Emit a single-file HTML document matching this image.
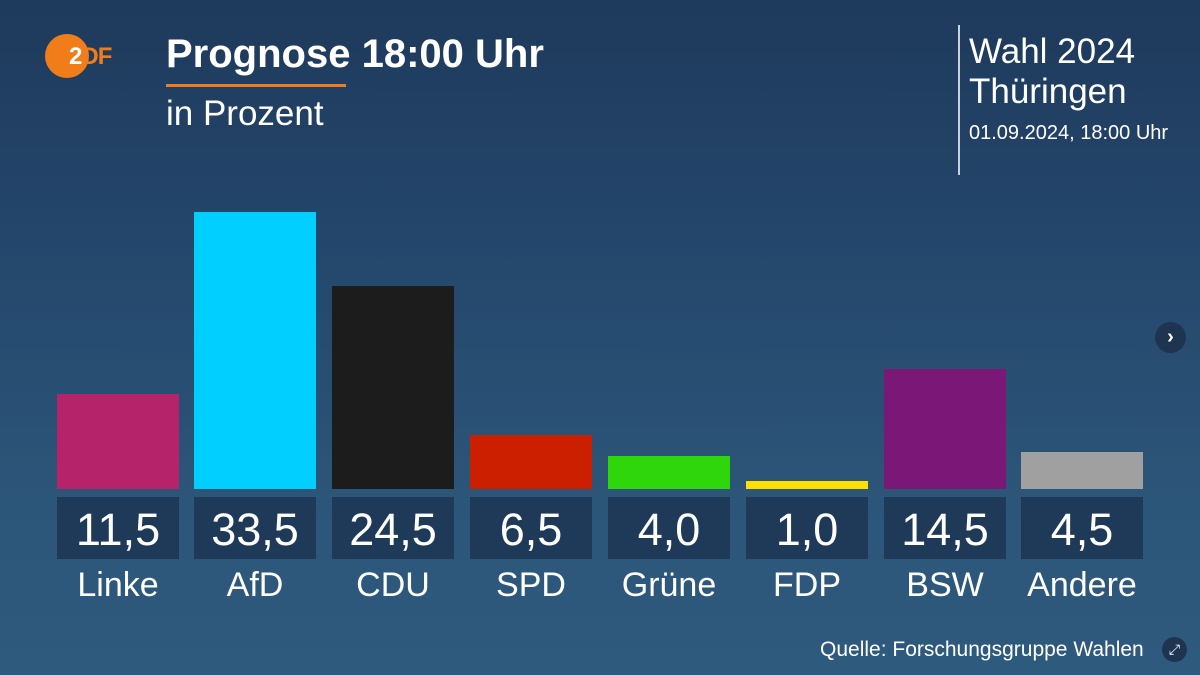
<!DOCTYPE html>
<html><head><meta charset="utf-8"><style>
body{margin:0}
#c{position:relative;width:1200px;height:675px;overflow:hidden;font-family:"Liberation Sans",sans-serif;color:#fff;background:linear-gradient(180deg,#1e3a5c 0%,#24466b 35%,#2c5679 75%,#2e5a7e 100%)}
.a{position:absolute;white-space:nowrap}
.bar{position:absolute;width:122px;bottom:186px}
.val{position:absolute;top:497px;width:122px;height:62px;background:#1f3a58;text-align:center;font-size:45px;line-height:66px}
.nm{position:absolute;top:565px;width:152px;text-align:center;font-size:34px;line-height:40px}
</style></head><body><div id="c">
<div class="a" style="left:45px;top:34px;width:44px;height:44px;border-radius:50%;background:#f07d1a"></div>
<div class="a" style="left:69px;top:43px;font-size:24px;font-weight:bold;color:#fff;letter-spacing:-1px">2<span style="color:#f07d1a">DF</span></div>
<div class="a" style="left:166px;top:32px;font-size:40px;font-weight:bold">Prognose 18:00 Uhr</div>
<div class="a" style="left:166px;top:84px;width:180px;height:3px;background:#f07d1a"></div>
<div class="a" style="left:166px;top:94px;font-size:35px">in Prozent</div>
<div class="a" style="left:958px;top:25px;width:2px;height:150px;background:#c8d2dc"></div>
<div class="a" style="left:969px;top:32px;font-size:35px;line-height:40px">Wahl 2024<br>Thüringen</div>
<div class="a" style="left:969px;top:122px;font-size:20px">01.09.2024, 18:00 Uhr</div>
<div class="a" style="left:1155px;top:322px;width:31px;height:31px;border-radius:50%;background:#1f3450;text-align:center;line-height:30px;font-size:20px;font-weight:bold">›</div>

<div class="bar" style="left:57px;height:95px;background:#b5236a"></div>
<div class="bar" style="left:194px;height:277px;background:#00cfff"></div>
<div class="bar" style="left:332px;height:203px;background:#1c1c1c"></div>
<div class="bar" style="left:470px;height:54px;background:#cc1f00"></div>
<div class="bar" style="left:608px;height:33px;background:#2ed60b"></div>
<div class="bar" style="left:746px;height:8px;background:#ffdf00"></div>
<div class="bar" style="left:884px;height:120px;background:#7b1776"></div>
<div class="bar" style="left:1021px;height:37px;background:#a0a0a0"></div>

<div class="val" style="left:57px">11,5</div>
<div class="val" style="left:194px">33,5</div>
<div class="val" style="left:332px">24,5</div>
<div class="val" style="left:470px">6,5</div>
<div class="val" style="left:608px">4,0</div>
<div class="val" style="left:746px">1,0</div>
<div class="val" style="left:884px">14,5</div>
<div class="val" style="left:1021px">4,5</div>

<div class="nm" style="left:42px">Linke</div>
<div class="nm" style="left:179px">AfD</div>
<div class="nm" style="left:317px">CDU</div>
<div class="nm" style="left:455px">SPD</div>
<div class="nm" style="left:593px">Grüne</div>
<div class="nm" style="left:731px">FDP</div>
<div class="nm" style="left:869px">BSW</div>
<div class="nm" style="left:1006px">Andere</div>

<div class="a" style="left:820px;top:638px;font-size:21px">Quelle: Forschungsgruppe Wahlen</div>
<div class="a" style="left:1162px;top:637px;width:25px;height:25px;border-radius:50%;background:#1f3450;text-align:center;line-height:25px;font-size:14px">⤢</div>
</div></body></html>
